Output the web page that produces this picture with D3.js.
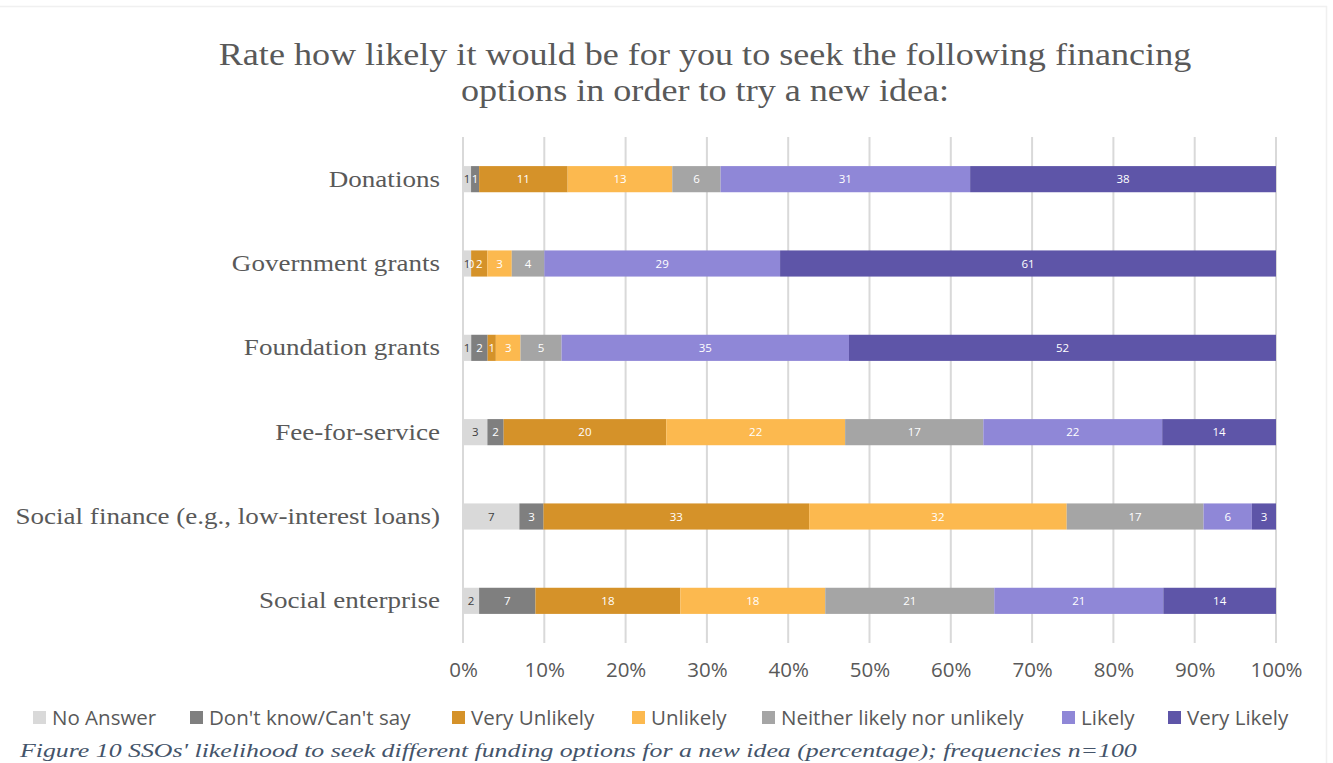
<!DOCTYPE html>
<html>
<head>
<meta charset="utf-8">
<script src="https://cdn.jsdelivr.net/npm/d3@7"></script>
<style>
  html, body { margin: 0; padding: 0; background: #fff; overflow: hidden; }
  svg { display: block; }
</style>
</head>
<body>
<svg id="chart" width="1333" height="763"></svg>
<script>
// Survey answers, percent of respondents per financing option
const categories = [
  "Donations",
  "Government grants",
  "Foundation grants",
  "Fee-for-service",
  "Social finance (e.g., low-interest loans)",
  "Social enterprise"
];
const seriesNames = [
  "No Answer",
  "Don't know/Can't say",
  "Very Unlikely",
  "Unlikely",
  "Neither likely nor unlikely",
  "Likely",
  "Very Likely"
];
const noAnswer   = [1, 1, 1, 3, 7, 2];
const dontKnow   = [1, 0, 2, 2, 3, 7];
const veryUnlik  = [11, 2, 1, 20, 33, 18];
const unlikely   = [13, 3, 3, 22, 32, 18];
const neither    = [6, 4, 5, 17, 17, 21];
const likely     = [31, 29, 35, 22, 6, 21];
const veryLikely = [38, 61, 52, 14, 3, 14];
const tickLabels = ["0%", "10%", "20%", "30%", "40%", "50%", "60%", "70%", "80%", "90%", "100%"];

const colors = ["#d9d9d9", "#7f7f7f", "#d59229", "#fcb94f", "#a5a5a5", "#8f87d7", "#5e55a8"];
const labelColors = ["#404040", "#ffffff", "#ffffff", "#ffffff", "#ffffff", "#ffffff", "#ffffff"];

const seriesValues = [noAnswer, dontKnow, veryUnlik, unlikely, neither, likely, veryLikely];
const rows = categories.map((c, i) => {
  const r = { category: c };
  seriesNames.forEach((s, j) => { r[s] = seriesValues[j][i]; });
  return r;
});

const stack = d3.stack().keys(seriesNames).offset(d3.stackOffsetExpand);
const layers = stack(rows);

const svg = d3.select("#chart");
const grey = "#595959";
const serif = "'Liberation Serif', serif";
const sans = "'Open Sans', sans-serif";
const serifStretch = 1.165; // widen the serif face horizontally

// frame lines of the surrounding page
svg.append("line").attr("x1", 0).attr("x2", 1327).attr("y1", 6.5).attr("y2", 6.5)
  .attr("stroke", "#f0f0f0").attr("stroke-width", 1.5);
svg.append("line").attr("x1", 1326.5).attr("x2", 1326.5).attr("y1", 6).attr("y2", 763)
  .attr("stroke", "#f0f0f0").attr("stroke-width", 1.5);

const x = d3.scaleLinear().domain([0, 1]).range([463, 1276]);
const y = d3.scaleBand().domain(categories).range([137, 643]).paddingInner(0.69).paddingOuter(0.345);

// title
const title = svg.append("g")
  .attr("transform", `translate(705,0) scale(${serifStretch},1)`)
  .append("text")
  .attr("text-anchor", "middle")
  .attr("font-family", serif)
  .attr("font-size", 31)
  .attr("fill", grey);
title.append("tspan").attr("x", 0).attr("y", 65)
  .text("Rate how likely it would be for you to seek the following financing");
title.append("tspan").attr("x", 0).attr("y", 101)
  .text("options in order to try a new idea:");

// vertical gridlines
svg.append("g")
  .selectAll("line")
  .data(d3.range(0, 1.0001, 0.1))
  .join("line")
  .attr("x1", d => x(d)).attr("x2", d => x(d))
  .attr("y1", 137).attr("y2", 643)
  .attr("stroke", "#d9d9d9").attr("stroke-width", 2);

// x axis tick labels
const xAxis = d3.axisBottom(x)
  .tickValues(d3.range(0, 1.0001, 0.1))
  .tickFormat((d, i) => tickLabels[i])
  .tickSize(0).tickPadding(0);
const gx = svg.append("g").attr("transform", "translate(0,662)").call(xAxis);
gx.select(".domain").remove();
gx.selectAll("text")
  .attr("font-family", sans)
  .attr("font-size", 20.5)
  .attr("fill", grey)
  .attr("dy", "0.71em");

// y axis category labels
const yAxis = d3.axisLeft(y).tickSize(0).tickPadding(0);
const gy = svg.append("g").attr("transform", `translate(440,0) scale(${serifStretch * 1.01},1)`).call(yAxis);
gy.select(".domain").remove();
gy.selectAll("text")
  .attr("font-family", serif)
  .attr("font-size", 23)
  .attr("fill", grey);

// stacked bars
const layerG = svg.append("g").selectAll("g")
  .data(layers)
  .join("g")
  .attr("fill", (d, i) => colors[i]);

layerG.selectAll("rect")
  .data(d => d)
  .join("rect")
  .attr("x", d => x(d[0]))
  .attr("width", d => x(d[1]) - x(d[0]))
  .attr("y", d => y(d.data.category))
  .attr("height", y.bandwidth());

// value labels
const labelG = svg.append("g").selectAll("g")
  .data(layers)
  .join("g")
  .attr("fill", (d, i) => labelColors[i]);

labelG.selectAll("text")
  .data(d => d.map(p => ({ p, key: d.key })))
  .join("text")
  .attr("x", d => (x(d.p[0]) + x(d.p[1])) / 2)
  .attr("y", d => y(d.p.data.category) + y.bandwidth() / 2)
  .attr("dy", "0.35em")
  .attr("text-anchor", "middle")
  .attr("font-family", sans)
  .attr("font-size", 11.5)
  .text(d => d.p.data[d.key]);

// legend
const legendX = [33, 190, 452, 632, 762, 1062, 1168];
const legend = svg.append("g").selectAll("g")
  .data(seriesNames)
  .join("g")
  .attr("transform", (d, i) => `translate(${legendX[i]},711)`);
legend.append("rect").attr("width", 13).attr("height", 13).attr("fill", (d, i) => colors[i]);
legend.append("text")
  .attr("x", 19).attr("y", 6.5).attr("dy", "0.35em")
  .attr("font-family", sans)
  .attr("font-size", 20.5)
  .attr("fill", grey)
  .text(d => d);

// figure caption along the lower edge
svg.append("g")
  .attr("transform", "translate(20,0) scale(1.36,1)")
  .append("text")
  .attr("x", 0).attr("y", 757)
  .attr("font-family", serif)
  .attr("font-style", "italic")
  .attr("font-size", 19)
  .attr("fill", "#44546a")
  .text("Figure 10 SSOs' likelihood to seek different funding options for a new idea (percentage); frequencies n=100");
</script>
</body>
</html>
